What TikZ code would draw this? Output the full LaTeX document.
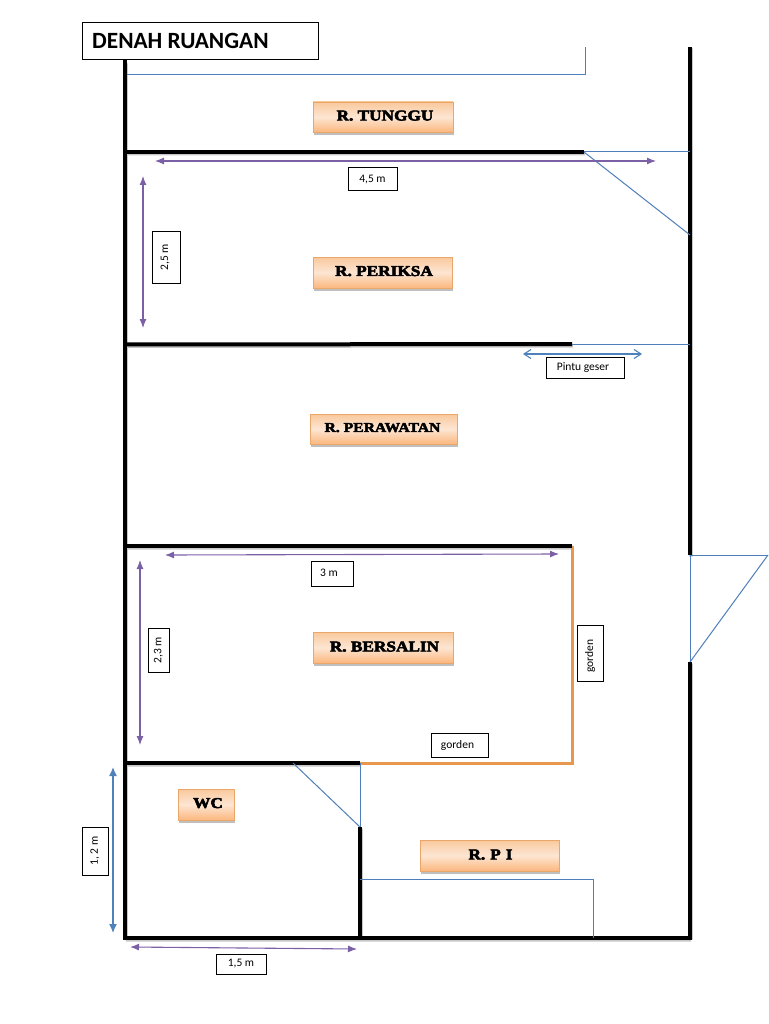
\documentclass[tikz,border=0pt]{standalone}
\usepackage{fontspec}
\setmainfont{Carlito}
\newfontfamily\fat{Liberation Serif Bold}[FakeBold=3.5,FakeStretch=1.15]
\usetikzlibrary{arrows.meta,shadows}
\definecolor{doorblue}{HTML}{4F7FBA}
\definecolor{dimpurple}{HTML}{7B60A6}
\definecolor{gordenor}{HTML}{E8974F}
\definecolor{dimblue}{HTML}{4F81BD}
\definecolor{roomtop}{HTML}{F9C89C}
\definecolor{roommid}{HTML}{FDE6D3}
\definecolor{roombot}{HTML}{FBB77E}
\tikzset{
  x=1pt,y=-1pt,
  wall/.style={line width=4pt,black,line cap=butt},
  wallshadow/.style={line width=4pt,black!22,transform canvas={xshift=0.8pt,yshift=-1.5pt}},
  door/.style={line width=1pt,doorblue},
  curtain/.style={line width=3pt,gordenor,line join=miter},
  dimp/.style={line width=1.1pt,dimpurple,{Latex[length=9pt,width=7pt]}-{Latex[length=9pt,width=7pt]}},
  dimb/.style={line width=1.4pt,dimblue,{Latex[length=9pt,width=8pt]}-{Latex[length=9pt,width=8pt]}},
  slide/.style={line width=1.1pt,dimblue,{Straight Barb[length=7pt,width=9pt]}-{Straight Barb[length=7pt,width=9pt]}},
  room/.style={draw=gordenor!85!white,line width=0.8pt,top color=roomtop,bottom color=roombot,
    middle color=roommid,shading angle=0,
    drop shadow={shadow xshift=0.5pt,shadow yshift=-3pt,opacity=0.5},
    font=\fat\fontsize{15}{15}\selectfont,text=black,inner sep=0pt},
  lbl/.style={draw=black,line width=1pt,fill=white,font=\fontsize{11.5}{12}\selectfont,inner sep=0pt,text=black},
}
\begin{document}
\begin{tikzpicture}
\useasboundingbox (0,0) rectangle (768,1024);
\fill[white] (0,0) rectangle (768,1024);
% wall coordinates
\coordinate (ltop) at (125,62);
\coordinate (lbot) at (125,938);
\coordinate (w1l) at (125,152);
\coordinate (w1r) at (584,152);
\coordinate (w2l) at (125,344.5);
\coordinate (w2r) at (572,344);
\coordinate (w3l) at (125,546);
\coordinate (w3r) at (572,546);
\coordinate (w4l) at (125,763);
\coordinate (w4r) at (360,763);
\coordinate (brr) at (690,938);
\coordinate (rtop) at (690,47);
\coordinate (rgap1) at (690,555);
\coordinate (rgap2) at (690,662);
\coordinate (wcw) at (360,827);
\coordinate (wcb) at (360,938);
% door coordinates
\coordinate (d1a) at (127,75);
\coordinate (d1b) at (585,75);
\coordinate (d1c) at (585,47);
\coordinate (d2s) at (584,152);
\coordinate (d2a) at (690,152);
\coordinate (d2b) at (690,235);
\coordinate (d3s) at (572,344);
\coordinate (d3a) at (690,344);
\coordinate (d4s) at (690,555);
\coordinate (d4a) at (768,555);
\coordinate (d4b) at (690,662);
\coordinate (d5a) at (293,763);
\coordinate (d5b) at (360,827);
\coordinate (d5c) at (360,763);
\coordinate (d6a) at (360,879);
\coordinate (d6b) at (593,879);
\coordinate (d6c) at (593,938);
\coordinate (c1) at (572,763);
% soft shadows under walls
\draw[wallshadow] (ltop) -- (lbot) (w1l) -- (w1r) (w2l) -- (w2r) (w3l) -- (w3r) (w4l) -- (w4r)
  (lbot) -- (brr) (rtop) -- (rgap1) (rgap2) -- (brr) (wcw) -- (wcb);
% curtain
\draw[curtain] (w3r) -- (c1) -- (w4r);
% walls
\draw[wall,line cap=rect] (ltop) -- (lbot);
\draw[wall] (w1l) -- (w1r);
\draw[wall] (w2l) -- (w2r);
\draw[wall] (w3l) -- (w3r);
\draw[wall] (w4l) -- (w4r);
\draw[wall,line cap=rect] (lbot) -- (brr);
\draw[wall] (rtop) -- (rgap1);
\draw[wall] (rgap2) -- (brr);
\draw[wall] (wcw) -- (wcb);
% thin door lines
\draw[door] (d1a) -- (d1b);
\draw[door] (d1b) -- (d1c);
\draw[door] (d2s) -- (d2a);
\draw[door] (d2s) -- (d2b);
\draw[door] (d3s) -- (d3a);
\draw[door] (d4s) -- (d4a);
\draw[door] (d4a) -- (d4b);
\draw[door] (d4b) -- (d4s);
\draw[door] (d5a) -- (d5b);
\draw[door] (d5b) -- (d5c);
\draw[door] (d6a) -- (d6b);
\draw[door] (d6b) -- (d6c);
% dimension ends
\coordinate (a1l) at (155,161);
\coordinate (a1r) at (656,161);
\coordinate (a2t) at (143,176);
\coordinate (a2b) at (143,328);
\coordinate (a3l) at (165,555);
\coordinate (a3r) at (559,554);
\coordinate (a4t) at (140,560);
\coordinate (a4b) at (140,745);
\coordinate (a5l) at (130,947);
\coordinate (a5r) at (357,949);
\coordinate (a6t) at (113,767);
\coordinate (a6b) at (113,933);
\coordinate (a7l) at (523,354);
\coordinate (a7r) at (642,354);
\draw[dimp] (a1l) -- (a1r);
\draw[dimp] (a2t) -- (a2b);
\draw[dimp] (a3l) -- (a3r);
\draw[dimp] (a4t) -- (a4b);
\draw[dimp] (a5l) -- (a5r);
\draw[dimb] (a6t) -- (a6b);
\draw[slide] (a7l) -- (a7r);
% title
\node[draw=black,line width=1pt,fill=white,minimum width=236pt,minimum height=37pt,inner sep=0pt] (title) at (200,41.5) {};
\node[anchor=west,inner sep=0pt,font=\bfseries\fontsize{23.3}{24}\selectfont] (titletext) at (92,41) {DENAH RUANGAN};
% rooms
\node[room,minimum width=140pt,minimum height=30pt] (tunggu) at (383,117) {\hspace*{4pt}\raisebox{3pt}{R. TUNGGU}};
\node[room,minimum width=139pt,minimum height=31pt] (periksa) at (382.5,272.5) {\hspace*{3pt}\raisebox{3pt}{R. PERIKSA}};
\node[room,minimum width=147pt,minimum height=30pt,font=\fat\fontsize{13.6}{14}\selectfont] (perawatan) at (383.5,429) {\hspace*{-2pt}\raisebox{3pt}{R. PERAWATAN}};
\node[room,minimum width=140pt,minimum height=31pt] (bersalin) at (383,647.5) {\hspace*{3pt}\raisebox{2pt}{R. BERSALIN}};
\node[room,minimum width=56pt,minimum height=31pt] (wc) at (206,804.5) {\hspace*{4pt}\raisebox{3pt}{WC}};
\node[room,minimum width=139pt,minimum height=31pt] (rpi) at (489.5,855.5) {\hspace*{2pt}\raisebox{2pt}{R.\,\,P\,\,I}};
% labels
\node[lbl,minimum width=49pt,minimum height=23pt] (l45) at (372.5,179.5) {\raisebox{1pt}{4,5 m}};
\node[lbl,minimum width=51pt,minimum height=28pt,rotate=90] (l25) at (166,257.5) {\raisebox{3pt}{2,5 m}};
\node[lbl,minimum width=78pt,minimum height=21pt] (lpg) at (585,367.5) {\hspace*{-4pt}\raisebox{1pt}{Pintu geser}};
\node[lbl,minimum width=42pt,minimum height=25pt] (l3) at (332,573.5) {\hspace*{-6pt}\raisebox{2pt}{3 m}};
\node[lbl,minimum width=44pt,minimum height=21pt,rotate=90] (l23) at (158.5,650) {\raisebox{-1pt}{2,3 m}};
\node[lbl,minimum width=56pt,minimum height=26pt,rotate=90] (lg1) at (590,653) {\hspace*{-6pt}gorden};
\node[lbl,minimum width=57pt,minimum height=24pt] (lg2) at (459.5,745) {\hspace*{-4pt}\raisebox{1pt}{gorden}};
\node[lbl,minimum width=48pt,minimum height=26pt,rotate=90] (l12) at (95,851) {1, 2 m};
\node[lbl,minimum width=50pt,minimum height=20pt] (l15) at (241,964) {1,5 m};
\end{tikzpicture}
\end{document}
